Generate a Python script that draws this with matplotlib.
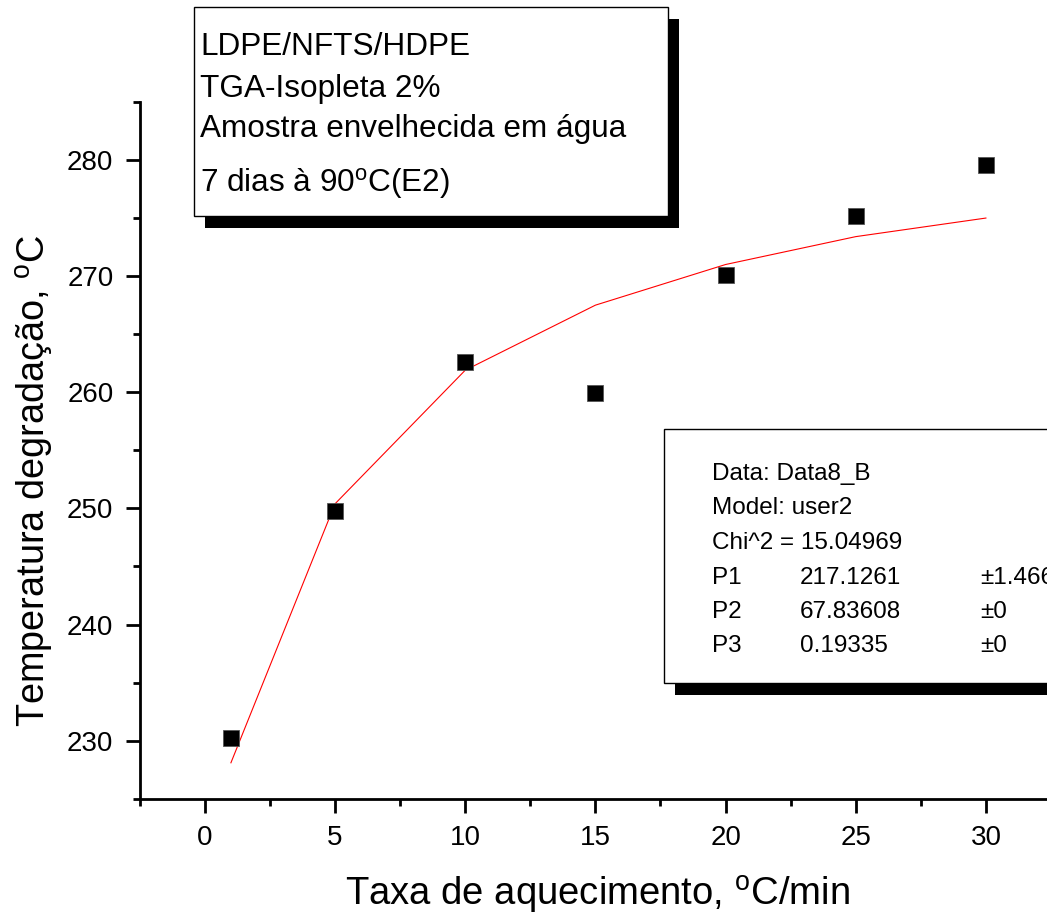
import matplotlib
matplotlib.use('Agg')
import matplotlib.pyplot as plt
from matplotlib.patches import Rectangle
from matplotlib.ticker import MultipleLocator

plt.rcParams['font.family'] = ['Liberation Sans', 'DejaVu Sans']
plt.rcParams['mathtext.fontset'] = 'custom'
plt.rcParams['mathtext.rm'] = 'Liberation Sans'
plt.rcParams['mathtext.it'] = 'Liberation Sans:italic'

# Data
rate = [1, 5, 10, 15, 20, 25, 30]
temp = [230.2, 249.8, 262.6, 259.9, 270.1, 275.2, 279.6]
fit_temp = [228.1, 250.4, 261.9, 267.5, 271.0, 273.4, 275.0]

info_lines = ["LDPE/NFTS/HDPE", "TGA-Isopleta 2%", "Amostra envelhecida em água",
              "7 dias à 90$^{\\mathrm{o}}$C(E2)"]
fit_header = ["Data: Data8_B", "Model: user2", "Chi^2 = 15.04969"]
param_names = ["P1", "P2", "P3"]
param_values = ["217.1261", "67.83608", "0.19335"]
param_errors = ["±1.46604", "±0", "±0"]

W, H = 1047, 923
fig = plt.figure(figsize=(W / 100, H / 100), dpi=100)


def fx(px):
    return px / W


def fy(py):
    return 1 - py / H


x0, x1, ytop, ybot = 139.8, 1051.0, 101.9, 798.8
ax = fig.add_axes([fx(x0), fy(ybot), fx(x1) - fx(x0), fy(ytop) - fy(ybot)])
ax.set_xlim(-2.5, 32.5)
ax.set_ylim(225, 285)
for s in ['top', 'right']:
    ax.spines[s].set_visible(False)
for s in ['left', 'bottom']:
    ax.spines[s].set_linewidth(2.0)

ax.plot(rate, fit_temp, color='red', lw=0.8, zorder=2)
ax.plot(rate, temp, 's', color='black', ms=11.5, mec='#555555', mew=0.6,
        zorder=3, clip_on=False)

ax.xaxis.set_major_locator(MultipleLocator(5))
ax.xaxis.set_minor_locator(MultipleLocator(2.5))
ax.yaxis.set_major_locator(MultipleLocator(10))
ax.yaxis.set_minor_locator(MultipleLocator(5))
ax.tick_params(which='major', direction='out', length=10, width=2.0,
               labelsize=20, pad=9)
ax.tick_params(which='minor', direction='out', length=5, width=2.0)

ax.set_xlabel('Taxa de aquecimento, $^{\\mathrm{o}}$C/min', fontsize=27.5, va='center')
ax.xaxis.set_label_coords(0.502, -0.138)
ax.set_ylabel('Temperatura degradação, $^{\\mathrm{o}}$C', fontsize=27.3, va='center')
ax.yaxis.set_label_coords(-0.115, 0.456)


def box(xl, yt, xr, yb, off):
    fig.add_artist(Rectangle((fx(xl + off[0]), fy(yb + off[1])),
                             fx(xr) - fx(xl), fy(yt) - fy(yb),
                             transform=fig.transFigure, facecolor='black',
                             edgecolor='black', lw=0, zorder=5))
    fig.add_artist(Rectangle((fx(xl), fy(yb)), fx(xr) - fx(xl), fy(yt) - fy(yb),
                             transform=fig.transFigure, facecolor='white',
                             edgecolor='black', lw=1.0, zorder=6))


# Info box
box(194, 7, 668, 216, (11, 12))
baselines = [55, 96.7, 136.7, 191.7]
for txt, b in zip(info_lines, baselines):
    fig.text(fx(200), fy(b), txt, fontsize=22.7, va='baseline', ha='left', zorder=7)

# Fit results box
box(664, 429, 1070, 683, (11, 12))
y0, dy = 480, 34.5
fs = 17.5
for i, txt in enumerate(fit_header):
    fig.text(fx(712), fy(y0 + i * dy), txt, fontsize=fs, va='baseline', zorder=7)
for j, (n, v, e) in enumerate(zip(param_names, param_values, param_errors)):
    yy = fy(y0 + (3 + j) * dy)
    fig.text(fx(712), yy, n, fontsize=fs, va='baseline', zorder=7)
    fig.text(fx(800), yy, v, fontsize=fs, va='baseline', zorder=7)
    fig.text(fx(980), yy, e, fontsize=fs, va='baseline', zorder=7)

fig.savefig('out.png', dpi=100)
